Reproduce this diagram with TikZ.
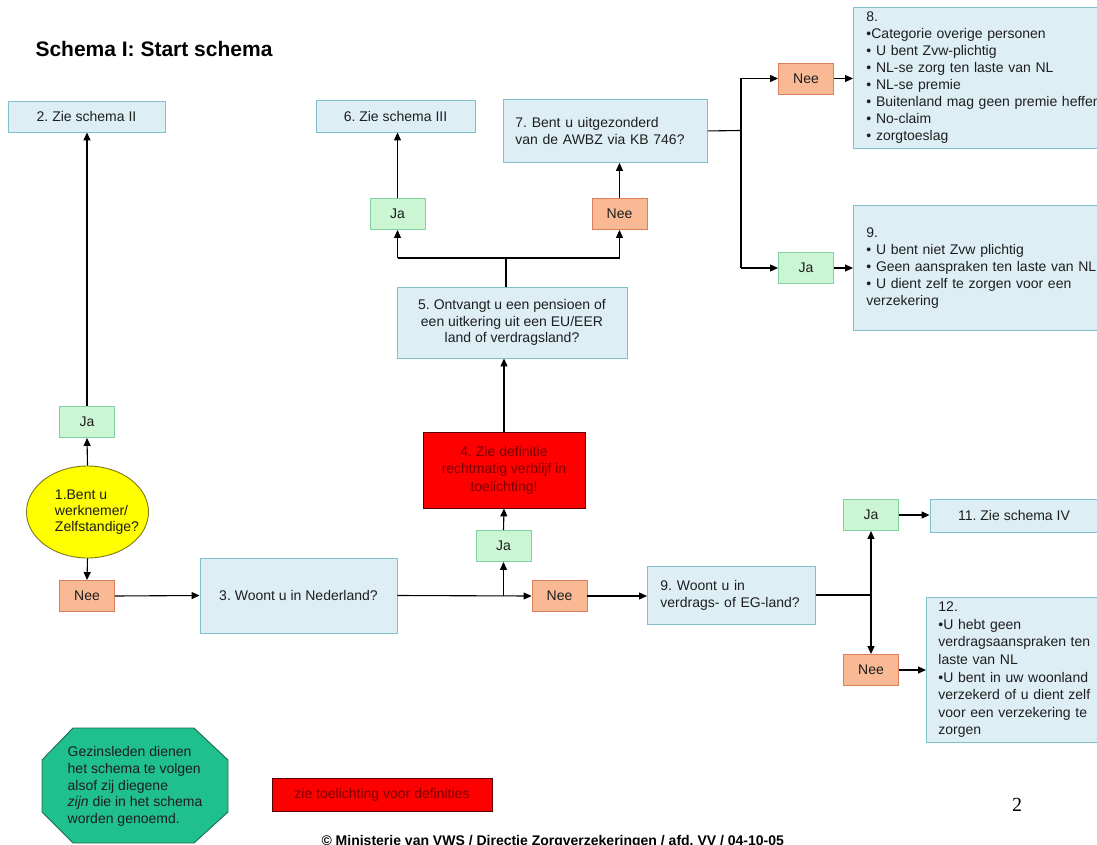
\documentclass[tikz,border=0pt]{standalone}
\usepackage{fontspec}
\setmainfont{Liberation Sans}
\newfontfamily\pagenumfont{Liberation Serif}
\usetikzlibrary{arrows.meta,shapes.geometric}
\frenchspacing

\definecolor{boxfill}{HTML}{DDEFF5}
\definecolor{boxline}{HTML}{7FC1CB}
\definecolor{jafill}{HTML}{CCF5D4}
\definecolor{jaline}{HTML}{7FD3A0}
\definecolor{neefill}{HTML}{F9B994}
\definecolor{neeline}{HTML}{D9805A}
\definecolor{redfill}{HTML}{FF0000}
\definecolor{redline}{HTML}{5A0000}
\definecolor{redtext}{HTML}{7A0000}
\definecolor{octfill}{HTML}{1FBF8E}
\definecolor{octline}{HTML}{1E6B52}
\definecolor{yelfill}{HTML}{FFFF00}
\definecolor{yelline}{HTML}{7A7A10}
\definecolor{ink}{HTML}{1E1E1E}

\begin{document}
\begin{tikzpicture}[x=1pt,y=-1pt,
  txt/.style={font=\fontsize{14}{17}\selectfont, text=ink},
  infobox/.style={txt, draw=boxline, fill=boxfill, line width=0.9pt, inner sep=0pt},
  listbox/.style={infobox, anchor=north west, align=left, inner xsep=13pt},
  answer/.style={txt, line width=0.9pt, minimum width=55pt, minimum height=31pt, inner sep=0pt},
  jabox/.style={answer, draw=jaline, fill=jafill},
  neebox/.style={answer, draw=neeline, fill=neefill},
  redbox/.style={draw=redline, fill=redfill, text=redtext, font=\fontsize{14}{17.5}\selectfont,
                 line width=0.8pt, inner sep=0pt, align=center},
  conn/.style={line width=1.1pt, draw=black},
  arr/.style={conn, -{Triangle[length=8pt,width=7pt]}},
]
\useasboundingbox (0,0) rectangle (1097,845);

% title
\node[anchor=base west, text=black, font=\bfseries\fontsize{21}{25}\selectfont] (title) at (32,57) {Schema I: Start schema};

% top row of targets
\node[infobox, minimum width=157pt, minimum height=31pt] (b2) at (86.5,116.5) {2. Zie schema II};
\node[infobox, minimum width=159pt, minimum height=32pt] (b6) at (395.5,116) {6. Zie schema III};
\node[infobox, anchor=north west, align=left, inner xsep=12pt, text width=180pt, minimum height=63pt] (b7) at (503,99)
  {7. Bent u uitgezonderd\\van de AWBZ via KB 746?};

\node[listbox, text width=236pt, minimum height=141pt] (b8) at (853,7)
  {8.\\
   •Categorie overige personen\\
   • U bent Zvw-plichtig\\
   • NL-se zorg ten laste van NL\\
   • NL-se premie\\
   • Buitenland mag geen premie heffen\\
   • No-claim\\
   • zorgtoeslag};

\node[listbox, text width=236pt, minimum height=125pt] (b9) at (853,205)
  {9.\\
   • U bent niet Zvw plichtig\\
   • Geen aanspraken ten laste van NL\\
   • U dient zelf te zorgen voor een\\
   verzekering};

% answers around question 7
\node[neebox] (nee7) at (806,78.5) {Nee};
\node[jabox]  (ja7)  at (806,268) {Ja};
\coordinate (j7) at (741,130.5);

% question 5 and its answers
\node[infobox, align=center, font=\fontsize{14}{16.5}\selectfont, minimum width=230pt, minimum height=71pt] (b5) at (512,322.5)
  {5. Ontvangt u een pensioen of\\een uitkering uit een EU/EER\\land of verdragsland?};
\node[jabox]  (ja5)  at (397.5,214) {Ja};
\node[neebox] (nee5) at (619.5,214) {Nee};
\coordinate (j5) at (506,258);

% definition box 4
\node[redbox, minimum width=162pt, minimum height=76pt] (b4) at (504,470)
  {4. Zie definitie\\rechtmatig verblijf in\\toelichting!};

% question 1
\node[ellipse, draw=yelline, fill=yelfill, line width=0.9pt, minimum width=122pt, minimum height=92pt, inner sep=0pt] (e1) at (87.5,512) {};
\node[txt, align=left, font=\fontsize{14}{16}\selectfont, inner sep=0pt] (e1text) at (97,512)
  {1.Bent u\\werknemer/\\Zelfstandige?};
\node[jabox]  (ja1)  at (87,422) {Ja};
\node[neebox] (nee1) at (87,596) {Nee};

% question 3
\node[infobox, minimum width=197pt, minimum height=75pt] (b3) at (298.5,595.5) {3. Woont u in Nederland?};
\node[jabox]  (ja3)  at (503.5,546) {Ja};
\node[neebox] (nee3) at (559.5,596) {Nee};
\coordinate (j3) at (503.5,596);

% question 9 (treaty country)
\node[infobox, anchor=north west, align=left, inner xsep=13pt, text width=142pt, minimum height=58pt] (b9b) at (647,566)
  {9. Woont u in\\verdrags- of EG-land?};
\node[jabox]  (ja9)  at (871,515) {Ja};
\node[neebox] (nee9) at (871,670) {Nee};
\coordinate (j9) at (871,595);

\node[infobox, minimum width=168pt, minimum height=33pt] (b11) at (1014,515.5) {11. Zie schema IV};
\node[listbox, inner xsep=12pt, text width=165pt, minimum height=145pt, font=\fontsize{14}{17.6}\selectfont] (b12) at (926,597)
  {12.\\
   •U hebt geen\\
   verdragsaanspraken ten\\
   laste van NL\\
   •U bent in uw woonland\\
   verzekerd of u dient zelf\\
   voor een verzekering te\\
   zorgen};

% connectors
\draw[arr] (e1.north) -- (ja1.south);
\draw[arr] (ja1.north) -- (ja1.north |- b2.south);
\draw[arr] (e1.south) -- (nee1.north);
\draw[arr] (nee1.east) -- (b3.west);

\draw[arr] (b3.east) -- (nee3.west);
\draw[arr] (j3) -- (ja3.south);
\draw[arr] (ja3.north) -- (b4.south);
\draw[arr] (b4.north) -- (b4.north |- b5.south);

\draw[conn] (j5 |- b5.north) -- (j5);
\draw[conn] (ja5.south |- j5) -- (nee5.south |- j5);
\draw[arr] (ja5.south |- j5) -- (ja5.south);
\draw[arr] (nee5.south |- j5) -- (nee5.south);
\draw[arr] (ja5.north) -- (ja5.north |- b6.south);
\draw[arr] (nee5.north) -- (nee5.north |- b7.south);

\draw[conn] (b7.east) -- (j7);
\draw[conn] (j7 |- nee7.west) -- (j7 |- ja7.west);
\draw[arr] (j7 |- nee7.west) -- (nee7.west);
\draw[arr] (j7 |- ja7.west) -- (ja7.west);
\draw[arr] (nee7.east) -- (nee7.east -| b8.west);
\draw[arr] (ja7.east) -- (ja7.east -| b9.west);

\draw[arr] (nee3.east) -- (nee3.east -| b9b.west);
\draw[conn] (b9b.east |- j9) -- (j9);
\draw[arr] (j9) -- (ja9.south);
\draw[arr] (j9) -- (nee9.north);
\draw[arr] (ja9.east) -- (ja9.east -| b11.west);
\draw[arr] (nee9.east) -- (nee9.east -| b12.west);

% family-members note
\filldraw[fill=octfill, draw=octline, line width=0.9pt]
  (73,728) -- (194,728) -- (228,760) -- (228,812) -- (194,843) -- (73,843) -- (42,812) -- (42,760) -- cycle;
\node[txt, align=left, font=\fontsize{14}{16.8}\selectfont, inner sep=0pt] (oct) at (135,786.5)
  {Gezinsleden dienen\\het schema te volgen\\alsof zij diegene\\\textit{zijn} die in het schema\\worden genoemd.};

% legend
\node[redbox, minimum width=220pt, minimum height=33pt] (legend) at (382,794.5) {zie toelichting voor definities};

% page number and footer
\node[font=\pagenumfont\fontsize{20}{24}\selectfont, text=black] (pg) at (1017,805) {2};
\node[anchor=base west, font=\bfseries\fontsize{14}{17}\selectfont, text=black] (footer) at (318,845.5)
  {© Ministerie van VWS / Directie Zorgverzekeringen / afd. VV / 04-10-05};
\end{tikzpicture}
\end{document}
